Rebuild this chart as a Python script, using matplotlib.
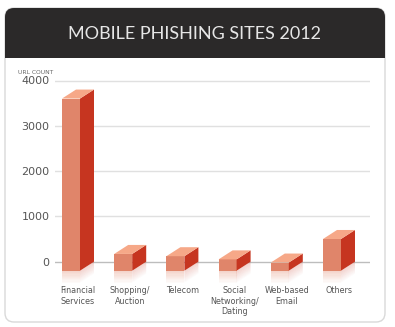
import matplotlib.pyplot as plt
import numpy as np
from matplotlib.patches import FancyBboxPatch, Rectangle, Polygon

categories = ["Financial\nServices", "Shopping/\nAuction", "Telecom",
              "Social\nNetworking/\nDating", "Web-based\nEmail", "Others"]
url_counts = [3800, 370, 320, 250, 180, 700]
y_ticks = [0, 1000, 2000, 3000, 4000]

front_col = "#e0856a"
side_col = "#c63520"
top_col = "#f6a888"

W, H = 395, 327
fig = plt.figure(figsize=(W / 100, H / 100), dpi=100)
fig.patch.set_facecolor("white")

# background panel in pixel coordinates
bg = fig.add_axes([0, 0, 1, 1])
bg.set_xlim(0, W)
bg.set_ylim(H, 0)
bg.axis("off")
bg.add_patch(FancyBboxPatch((5, 8), 380, 314, boxstyle="round,pad=0,rounding_size=9",
                            facecolor="white", edgecolor="#d9d9d9", lw=1.0))
bg.add_patch(FancyBboxPatch((5, 8), 380, 50, boxstyle="round,pad=0,rounding_size=9",
                            facecolor="#2b2929", edgecolor="none"))
bg.add_patch(Rectangle((5, 40), 380, 18, facecolor="#2b2929", edgecolor="none"))
bg.text(195, 34, "MOBILE PHISHING SITES 2012", color="#e6e6e6", fontsize=13,
        family="Lato", fontweight="normal", ha="center", va="center", zorder=5)
bg.text(36, 72, "URL COUNT", color="#666666", fontsize=4.3, ha="center", va="center")

# chart axes: 45.3 px per 1000, zero line at y=261.7 px
px_per_unit = 0.0453
ax_top, ax_bot, ax_left, ax_right = 70, 283, 55, 370
ax = fig.add_axes([ax_left / W, 1 - ax_bot / H, (ax_right - ax_left) / W, (ax_bot - ax_top) / H])
ax.set_ylim(-(ax_bot - 261.7) / px_per_unit, (261.7 - ax_top) / px_per_unit)
step = 52.2
ax.set_xlim(-(71 - ax_left) / step, -(71 - ax_left) / step + (ax_right - ax_left) / step)
ax.set_facecolor("none")
for s in ax.spines.values():
    s.set_visible(False)

for t in y_ticks:
    ax.axhline(t, color="#bdbdbd" if t == 0 else "#e0e0e0", lw=1.0, zorder=0)

w = 18 / step
dx = 14 / step
dy = 9 / px_per_unit

x = np.arange(len(categories))
for xi, v in zip(x, url_counts):
    l, r = xi - w / 2, xi + w / 2
    ax.add_patch(Rectangle((l, -dy), w, v, facecolor=front_col, edgecolor="none", zorder=3))
    ax.add_patch(Polygon([(r, -dy), (r + dx, 0), (r + dx, v), (r, v - dy)],
                         facecolor=side_col, edgecolor="none", zorder=3))
    ax.add_patch(Polygon([(l, v - dy), (r, v - dy), (r + dx, v), (l + dx, v)],
                         facecolor=top_col, edgecolor="none", zorder=3))
    # fading reflection under the bar
    n = 10
    seg = 12 / px_per_unit / n
    for k in range(n):
        a = 0.35 * (1 - k / n)
        y0 = -dy - (k + 1) * seg
        ax.add_patch(Rectangle((l, y0), w, seg, facecolor=front_col, alpha=a,
                               edgecolor="none", zorder=2))
        ax.add_patch(Polygon([(r, y0 + seg), (r + dx, y0 + seg + dy), (r + dx, y0 + dy), (r, y0)],
                             facecolor=side_col, alpha=a * 0.6, edgecolor="none", zorder=2))

ax.set_yticks(y_ticks)
ax.set_yticklabels([str(t) for t in y_ticks], fontsize=8, color="#555555")
ax.tick_params(axis="y", length=0, pad=4)
ax.set_xticks(x + dx / 2)
ax.set_xticklabels(categories, fontsize=5.8, color="#555555", linespacing=1.25)
ax.tick_params(axis="x", length=0, pad=2)

fig.savefig("out.png", dpi=100, facecolor="white")
